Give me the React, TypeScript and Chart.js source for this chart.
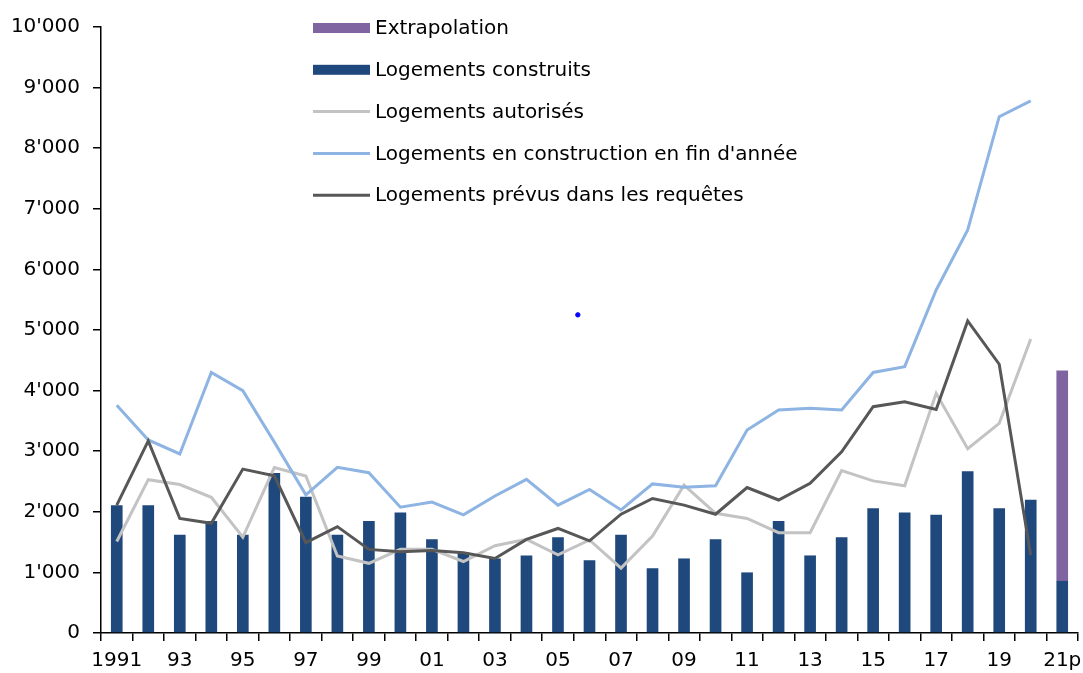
import React, { useEffect, useRef } from 'react';
import { Chart, registerables } from 'chart.js';

Chart.register(...registerables);

const categories = ['1991','1992','1993','1994','1995','1996','1997','1998','1999','2000','2001','2002','2003','2004','2005','2006','2007','2008','2009','2010','2011','2012','2013','2014','2015','2016','2017','2018','2019','2020','2021p'];
const tickLabels = ['1991','','93','','95','','97','','99','','01','','03','','05','','07','','09','','11','','13','','15','','17','','19','','21p'];
const yTicks = [0,1000,2000,3000,4000,5000,6000,7000,8000,9000,10000];

const construits = [2110,2110,1620,1850,1620,2640,2250,1620,1850,1990,1545,1330,1230,1280,1580,1200,1620,1070,1230,1545,1000,1850,1280,1580,2060,1990,1950,2670,2060,2200,860];
const extrapolation = [null,null,null,null,null,null,null,null,null,null,null,null,null,null,null,null,null,null,null,null,null,null,null,null,null,null,null,null,null,null,3470];
const autorises = [1510,2530,2450,2240,1580,2730,2590,1270,1150,1380,1380,1180,1440,1545,1290,1535,1070,1600,2440,1975,1890,1655,1655,2680,2510,2430,3955,3040,3460,4850];
const enConstruction = [3760,3185,2955,4300,4000,3150,2280,2735,2645,2075,2160,1950,2260,2535,2110,2370,2030,2460,2405,2430,3350,3680,3710,3680,4300,4395,5660,6650,8520,8780];
const prevus = [2110,3170,1890,1810,2705,2595,1490,1755,1380,1340,1360,1325,1230,1545,1725,1520,1960,2220,2110,1960,2400,2195,2470,2990,3735,3815,3690,5150,4435,1285];
const strayPointX = [14.63];
const strayPointY = [5250];

const NAVY = '#1F497D';
const PURPLE = '#8064A2';
const LIGHT_GRAY = '#C3C3C3';
const LIGHT_BLUE = '#8DB4E2';
const DARK_GRAY = '#575757';
const FONT = 'DejaVu Sans';

const legendOrder = [1, 0, 2, 3, 4];

const fmt = (v: number) => String(v).replace(/\B(?=(\d{3})+(?!\d))/g, "'");

const legendPlugin = {
  id: 'customLegend',
  afterDraw(chart: any) {
    const ctx = chart.ctx;
    const x0 = 313;
    const x1 = 370;
    const rowTop = 28;
    const rowGap = 41.8;
    ctx.save();
    ctx.font = `20px "${FONT}"`;
    ctx.textBaseline = 'middle';
    ctx.textAlign = 'left';
    legendOrder.forEach((di, i) => {
      const ds = chart.data.datasets[di];
      const y = rowTop + i * rowGap;
      if (ds.type === 'bar') {
        ctx.fillStyle = ds.backgroundColor;
        ctx.fillRect(x0, y - 5, x1 - x0, 10);
      } else {
        ctx.strokeStyle = ds.borderColor;
        ctx.lineWidth = 3;
        ctx.beginPath();
        ctx.moveTo(x0, y);
        ctx.lineTo(x1, y);
        ctx.stroke();
      }
      ctx.fillStyle = '#000';
      ctx.fillText(ds.label, x1 + 5, y + 1);
    });
    ctx.restore();
  },
};

export default function App() {
  const ref = useRef<HTMLCanvasElement | null>(null);
  useEffect(() => {
    if (!ref.current) return;
    const chart = new Chart(ref.current, {
      data: {
        labels: categories,
        datasets: [
          { type: 'bar', label: 'Logements construits', data: construits, backgroundColor: NAVY, stack: 'bars', grouped: false, order: 3, barPercentage: 0.37, categoryPercentage: 1 },
          { type: 'bar', label: 'Extrapolation', data: extrapolation, backgroundColor: PURPLE, stack: 'bars', grouped: false, order: 3, barPercentage: 0.37, categoryPercentage: 1 },
          { type: 'line', label: 'Logements autorisés', data: autorises, borderColor: LIGHT_GRAY, backgroundColor: LIGHT_GRAY, borderWidth: 3, pointRadius: 0, tension: 0, stack: 'l1', order: 2 },
          { type: 'line', label: "Logements en construction en fin d'année", data: enConstruction, borderColor: LIGHT_BLUE, backgroundColor: LIGHT_BLUE, borderWidth: 3, pointRadius: 0, tension: 0, stack: 'l2', order: 1 },
          { type: 'line', label: 'Logements prévus dans les requêtes', data: prevus, borderColor: DARK_GRAY, backgroundColor: DARK_GRAY, borderWidth: 3, pointRadius: 0, tension: 0, stack: 'l3', order: 0 },
          { type: 'scatter', label: 'point', data: strayPointX.map((x, i) => ({ x, y: strayPointY[i] })), xAxisID: 'xDot', backgroundColor: '#0000FF', borderColor: '#0000FF', pointRadius: 2.2, stack: 'l4', order: 0 },
        ],
      } as any,
      options: {
        animation: false,
        responsive: false,
        maintainAspectRatio: false,
        layout: { padding: { top: 27, right: 2, left: 0, bottom: 0 } },
        plugins: { legend: { display: false }, tooltip: { enabled: false } },
        scales: {
          x: {
            type: 'category',
            stacked: true,
            offset: true,
            grid: { display: true, offset: true, drawOnChartArea: false, drawTicks: true, tickLength: 8, color: '#000', lineWidth: 1.5 },
            border: { display: true, color: '#000', width: 1.5 },
            ticks: {
              autoSkip: false,
              maxRotation: 0,
              minRotation: 0,
              padding: 8,
              color: '#000',
              font: { family: FONT, size: 20 },
              callback: (_v: any, i: number) => tickLabels[i],
            },
            afterFit: (s: any) => { s.height = 40; s.paddingLeft = 0; s.paddingRight = 0; },
          },
          xDot: {
            type: 'linear',
            display: false,
            min: -0.5,
            max: 30.5,
          },
          y: {
            type: 'linear',
            stacked: true,
            min: 0,
            max: 10000,
            afterBuildTicks: (s: any) => { s.ticks = yTicks.map((v) => ({ value: v })); },
            grid: { display: true, drawOnChartArea: false, drawTicks: true, tickLength: 8, color: '#000', lineWidth: 1.5 },
            border: { display: true, color: '#000', width: 1.5 },
            ticks: {
              padding: 13,
              color: '#000',
              font: { family: FONT, size: 20 },
              callback: (v: any) => fmt(v),
            },
            afterFit: (s: any) => { s.width = 101; s.paddingTop = 0; s.paddingBottom = 0; },
          },
        },
      } as any,
      plugins: [legendPlugin],
    });
    return () => chart.destroy();
  }, []);
  return (
    <div style={{ position: 'absolute', left: 0, top: 0, width: 1083, height: 673, background: '#fff' }}>
      <canvas ref={ref} width={1083} height={673} style={{ width: 1083, height: 673, display: 'block' }} />
    </div>
  );
}
